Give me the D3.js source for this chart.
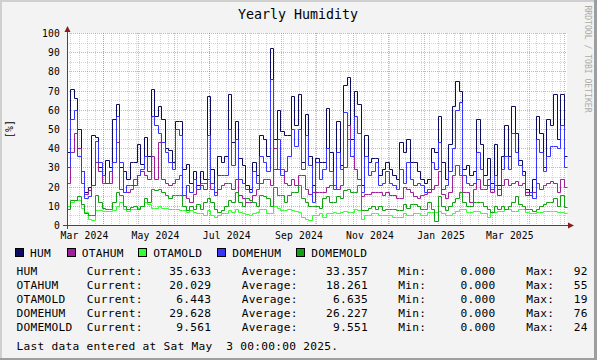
<!DOCTYPE html>
<html><head><meta charset="utf-8">
<script src="https://cdn.jsdelivr.net/npm/d3@7"></script>
<style>
html,body{margin:0;padding:0;background:#f3f3f3;}
svg{display:block;}
text{font-family:"DejaVu Sans Mono",monospace;white-space:pre;}
</style></head><body>
<svg id="c" width="597" height="360"></svg>
<script>
// ---- data (3-day steps starting 2024-03-01) ----
const startDate = "2024-03-01";
const stepDays = 3;
const HUM = [38,71,66,50,28,17,20,47,46,30,26,34,30,55,63,30,28,24,33,33,42,32,46,36,
71,57,62,55,40,39,33,54,54,29,32,22,28,21,28,24,67,29,17,36,33,36,68,43,
54,35,31,21,19,33,26,47,45,36,92,45,60,49,47,47,67,52,68,33,58,36,21,35,
33,33,61,38,21,54,31,73,77,45,70,63,21,47,33,35,35,26,29,33,29,26,24,43,
38,45,33,33,28,24,22,24,40,38,57,33,24,42,62,75,70,29,31,26,28,55,42,26,
35,22,42,21,36,52,36,62,48,34,28,19,17,24,57,48,30,55,52,68,45,68,36];
const OTAHUM = [22,38,48,40,22,16,18,21,33,28,22,22,22,33,43,19,17,17,19,24,26,28,26,24,
36,24,43,24,22,21,22,24,26,15.5,14,12,16,19,22,22,24,19,17,19,21,22,22,19,
24,15.5,14,12,12,15.5,19,22,24,24,21,40,29,29,22,21,24,21,26,26,19,16,17,17,
17,17,20,21,21,19,21,30,52,36,29,24,15,16,16,17,17,17,15.5,17,15.5,15.5,14,14,
20,19,17,15,14,15.5,16,17,19,21,28,16,14,17,26,31,26,17,17,12,19,24,19,19,
21,17,21,19,21,24,21,22,23,21,22,17,15.5,17,22,19,21,22,23,22,17,24,20];
const OTAMOLD = [10,12,13,13,9,7,3,2.5,8,8,7.5,7.5,7.5,8,10,12,8.5,7.5,8.5,8.5,9,10,12,11,
9,9,10,9,9,8.5,8.5,8.5,7.7,7.7,7,7.7,7,6,6,5,7.7,5,4,5,6,6,7.7,7,
8.5,7,6,5.5,5,6,7,8.5,8.5,6,6,10,9,8,7.7,8.5,8,7.5,7,4,3.3,2.5,5,5,
6,4,6,6.5,7,6,7,7.5,7,7,8.5,8,3,5,5,6,6,5,5,5,5,4,4,4,
6,5,5,6,6,5,5,7,7,7,7.5,6,5,5,6,7.5,8.5,8.5,7,7,7.5,7.5,6,6,
4,7,7,7.5,7.5,8.5,8.5,7.5,7.5,8.5,8.5,7,6,6,7,7,7.5,7.5,7.5,7.5,7,7,6.4];
const DOMEHUM = [30,55,60,36,28,14,15,21,44,33,26,22,28,33,57,33,17,21,21,21,26,29,36,28,
57,52,48,43,38,33,29,50,47,15.5,21,17,24,19,21,19,47,22,15.5,26,26,26,50,31,
45,24,22,19,17,28,22,36,33,28,76,29,45,26,28,36,50,41,50,29,47,31,12,33,
24,29,40,28,19,38,29,59,45,36,57,48,17,36,26,28,33,21,22,28,22,21,19,29,
22,33,24,21,22,21,17,19,33,29,43,19,21,28,40,60,64,26,22,21,22,38,29,21,
24,19,26,15.5,29,36,29,48,38,31,26,15.5,17,14,45,38,28,36,41,41,40,52,30];
const DOMEMOLD = [8.5,13,13,15,11,6,5,5,15.5,12,9,8.5,8.5,12,17,15.5,10,8.5,9.4,10,8.5,10,14,12,
19,18,19,17,15.5,14,15.5,15.5,15.5,10,8,10,8.5,11,8.5,12,14,12,8.5,7,8,10,13,12,
17,12,10,14,13,12,10,15.5,15,14,10,20,15.5,15.5,12,15.5,17,17,21,14,12,10,10,10,
9,14,15,12,12,15,14,18,19,17,17,21,8,8,9,10,8.5,10,8,8.5,8.5,8.5,8,8,
11,9,11,11,10,8.5,8.5,12,8.5,2,15,10,8,10,12,14,17,12,10,10,12,12,12,10,
8.5,7,10,8.5,10,8.5,10,12,15,11,10,8.5,8.5,7.5,8.5,10,11,12,12,14,10,15.5,9.6];

const seriesNames = ["HUM","OTAHUM","OTAMOLD","DOMEHUM","DOMEMOLD"];
const seriesValues = [HUM, OTAHUM, OTAMOLD, DOMEHUM, DOMEMOLD];
const seriesColors = ["#0c0c62","#a0209a","#33ff33","#3535ff","#14a014"];
const currentVals = ["35.633","20.029","6.443","29.628","9.561"];
const averageVals = ["33.357","18.261","6.635","26.227","9.551"];
const minVals = ["0.000","0.000","0.000","0.000","0.000"];
// only the integer part of each maximum is visible in the reference (cut at the right edge)
const maxVals = ["92","55","19","76","24"];
const yTicks = [0,10,20,30,40,50,60,70,80,90,100];
const titleText = "Yearly Humidity";
const yLabel = "[%]";
const watermark = "RRDTOOL / TOBI OETIKER";
const footer = "Last data entered at Sat May  3 00:00:00 2025.";

// ---- drawing ----
const svg = d3.select("#c");
const W = 597, H = 360;
const X0 = 67, X1 = 567, Y0 = 225, Y1 = 33;
const DAY = 86400000;
const t0 = new Date(startDate + "T00:00:00Z");
const n = HUM.length;
const tEnd = new Date(+t0 + n * stepDays * DAY);
const x = d3.scaleUtc().domain([t0, tEnd]).range([X0, X1]);
const y = d3.scaleLinear().domain([0, 100]).range([Y0, Y1]);
const px = v => Math.round(v) + 0.5;

svg.append("rect").attr("width", W).attr("height", H).attr("fill", "#f3f3f3");
svg.append("rect").attr("x", X0).attr("y", Y1).attr("width", X1 - X0).attr("height", Y0 - Y1).attr("fill", "#ffffff");

const grid = svg.append("g").attr("stroke-width", 1).attr("stroke-dasharray", "1,1").attr("fill", "none");
const minorCol = "rgba(143,143,143,0.38)";
const majorCol = "rgba(222,80,80,0.5)";
d3.range(5, 100, 10).forEach(v => {
  grid.append("line").attr("x1", X0).attr("x2", X1).attr("y1", px(y(v))).attr("y2", px(y(v))).attr("stroke", minorCol);
});
d3.utcMonday.range(t0, tEnd).forEach(d => {
  grid.append("line").attr("x1", px(x(d))).attr("x2", px(x(d))).attr("y1", Y1).attr("y2", Y0).attr("stroke", minorCol);
});
yTicks.forEach(v => {
  grid.append("line").attr("x1", X0).attr("x2", X1).attr("y1", px(y(v))).attr("y2", px(y(v))).attr("stroke", majorCol);
});
d3.utcMonth.range(t0, tEnd).forEach(d => {
  grid.append("line").attr("x1", px(x(d))).attr("x2", px(x(d))).attr("y1", Y1).attr("y2", Y0).attr("stroke", majorCol);
});

// y labels
svg.append("g").selectAll("text").data(yTicks).join("text")
  .attr("x", 60).attr("y", d => px(y(d)) + 3.5).attr("text-anchor", "end")
  .attr("font-size", "9.7px").attr("letter-spacing", "0.16px").attr("fill", "#000")
  .text(d => d);

// x labels (every 2 months, centered at month start + 15 days)
const fmt = d3.utcFormat("%b %Y");
d3.utcMonth.every(2).range(t0, tEnd).forEach(d => {
  const c = x(new Date(+d + 15 * DAY));
  if (c > X1) return;
  svg.append("text").attr("x", c).attr("y", 239).attr("text-anchor", "middle")
    .attr("font-size", "9.7px").attr("letter-spacing", "0.16px").text(fmt(d));
});

// series lines
const line = d3.line().x(d => px(x(d[0]))).y(d => px(y(d[1]))).curve(d3.curveStepAfter);
seriesValues.forEach((vals, k) => {
  const pts = vals.map((v, i) => [new Date(+t0 + i * stepDays * DAY), v]);
  pts.push([tEnd, vals[vals.length - 1]]);
  svg.append("path").datum(pts).attr("d", line).attr("fill", "none")
    .attr("stroke", seriesColors[k]).attr("stroke-width", 1);
});

// axes
const axisCol = "#6a3a3a";
svg.append("line").attr("x1", X0 - 4).attr("x2", X1 + 2).attr("y1", Y0 + 0.5).attr("y2", Y0 + 0.5)
  .attr("stroke", axisCol).attr("stroke-width", 1);
svg.append("line").attr("x1", X0 + 0.5).attr("x2", X0 + 0.5).attr("y1", Y0 + 4).attr("y2", Y1 - 2)
  .attr("stroke", axisCol).attr("stroke-width", 1);
svg.append("path").attr("d", `M${X0 + 0.5},${Y1 - 7} L${X0 - 2.5},${Y1 - 1} L${X0 + 3.5},${Y1 - 1} Z`).attr("fill", "#8b1c1c");
svg.append("path").attr("d", `M${X1 + 7},${Y0 + 0.5} L${X1 + 1},${Y0 - 2.5} L${X1 + 1},${Y0 + 3.5} Z`).attr("fill", "#8b1c1c");

// title
svg.append("text").attr("x", 298).attr("y", 18.5).attr("text-anchor", "middle")
  .attr("font-size", "13.3px").text(titleText);
// y-axis label
svg.append("text").attr("transform", "translate(12.5,129) rotate(-90)").attr("text-anchor", "middle")
  .attr("font-size", "9.7px").attr("letter-spacing", "0.16px").text(yLabel);
// watermark
svg.append("text").attr("transform", "translate(585,59) rotate(90)").attr("text-anchor", "middle")
  .attr("font-size", "8.1px").attr("fill", "#ababab").text(watermark);

// legend
const legBoxX = [15, 66.7, 138.3, 217.3, 296.3];
seriesNames.forEach((nm, k) => {
  svg.append("rect").attr("x", Math.round(legBoxX[k]) + 0.5).attr("y", 248.5).attr("width", 8).attr("height", 8)
    .attr("fill", seriesColors[k]).attr("stroke", "#000").attr("stroke-width", 1);
  svg.append("text").attr("x", legBoxX[k] + 15).attr("y", 256.5)
    .attr("font-size", "11.2px").attr("letter-spacing", "0.26px").text(nm);
});

// stats rows
const fs = "11.2px", ls = "0.26px";
seriesNames.forEach((nm, k) => {
  const yy = 274.5 + k * 14;
  const t = (xx, s, anchor) => svg.append("text").attr("x", xx).attr("y", yy)
    .attr("text-anchor", anchor || "start").attr("font-size", fs).attr("letter-spacing", ls).text(s);
  t(16.5, nm);
  t(86.7, "Current:");
  t(211.3, currentVals[k], "end");
  t(241.7, "Average:");
  t(367.9, averageVals[k], "end");
  t(398.3, "Min:");
  t(495.5, minVals[k], "end");
  t(526.3, "Max:");
  t(573.7, maxVals[k]);
});
svg.append("text").attr("x", 16.5).attr("y", 350.3).attr("font-size", fs).attr("letter-spacing", ls).text(footer);

// frame
svg.append("rect").attr("x", 0).attr("y", 0).attr("width", W).attr("height", 2).attr("fill", "#cfcfcf");
svg.append("rect").attr("x", 0).attr("y", 0).attr("width", 2).attr("height", H).attr("fill", "#cfcfcf");
svg.append("rect").attr("x", 0).attr("y", H - 2).attr("width", W).attr("height", 2).attr("fill", "#9e9e9e");
svg.append("rect").attr("x", W - 3).attr("y", 0).attr("width", 3).attr("height", H).attr("fill", "#9e9e9e");
</script>
</body></html>
